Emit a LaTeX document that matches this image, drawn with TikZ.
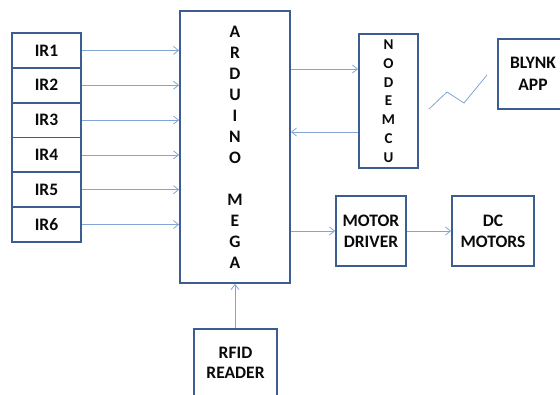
\documentclass[tikz,border=0pt]{standalone}
\usepackage{fontspec}
\setmainfont{Carlito}
\usetikzlibrary{arrows.meta}
\definecolor{boxc}{HTML}{3B5D8F}
\definecolor{arrc}{HTML}{82A5D6}
\definecolor{txtc}{HTML}{0A0A0A}
\begin{document}
\begin{tikzpicture}[x=1pt,y=-1pt,
  blk/.style={draw=boxc,line width=1.8pt,fill=white,inner sep=0pt,text=txtc,
    font=\fontsize{17.5}{21}\selectfont\bfseries,align=center},
  arr/.style={draw=arrc,line width=0.8pt,-{Straight Barb[length=5pt,width=8pt,line width=0.8pt]}},
  zz/.style={draw=arrc,line width=0.8pt}]
\clip (0,0) rectangle (560,394);
\fill[white] (0,0) rectangle (560,394);
% IR sensors
\foreach \i/\y in {1/50.4,2/85.2,3/120.1,4/154.9,5/189.7,6/224.5}{
  \node[blk,minimum width=69pt,minimum height=34.8pt] (ir\i) at (46.5,\y) {IR\i};
}
% Arduino
\node[blk,minimum width=110pt,minimum height=272pt] (ard) at (235,147)
  {A\\R\\D\\U\\I\\N\\O\\\mbox{}\\M\\E\\G\\A};
% NodeMCU
\node[blk,minimum width=59pt,minimum height=134pt,font=\fontsize{15}{18.8}\selectfont\bfseries] (nmcu) at (388.5,101)
  {N\\O\\D\\E\\M\\C\\U};
% Blynk
\node[blk,minimum width=70pt,minimum height=70pt,font=\fontsize{17.5}{22}\selectfont\bfseries] (blynk) at (533,74) {BLYNK\\APP};
% Motor driver
\node[blk,minimum width=70pt,minimum height=70pt] (md) at (371,231) {MOTOR\\DRIVER};
% DC motors
\node[blk,minimum width=82pt,minimum height=70pt] (dc) at (493,231) {DC\\MOTORS};
% RFID
\node[blk,minimum width=83pt,minimum height=68pt,font=\fontsize{17.5}{20}\selectfont\bfseries] (rfid) at (235.5,363) {RFID\\READER};
% connectors
\foreach \i in {1,...,6}{
  \draw[arr] (ir\i.east) -- (ir\i.east -| ard.west);
}
\coordinate (ya) at (0,69);
\coordinate (yb) at (0,132);
\draw[arr] (ard.east |- ya) -- (nmcu.west |- ya);
\draw[arr] (nmcu.west |- yb) -- (ard.east |- yb);
\draw[arr] (ard.east |- md.west) -- (md.west);
\draw[arr] (md.east) -- (dc.west);
\draw[arr] (rfid.north -| ard.south) -- (ard.south);
% wireless link
\coordinate (z1) at (429,109);
\coordinate (z2) at (447,92);
\coordinate (z3) at (464,103);
\coordinate (z4) at (487,75);
\draw[zz] (z1) -- (z2) -- (z3) -- (z4);
\end{tikzpicture}
\end{document}
